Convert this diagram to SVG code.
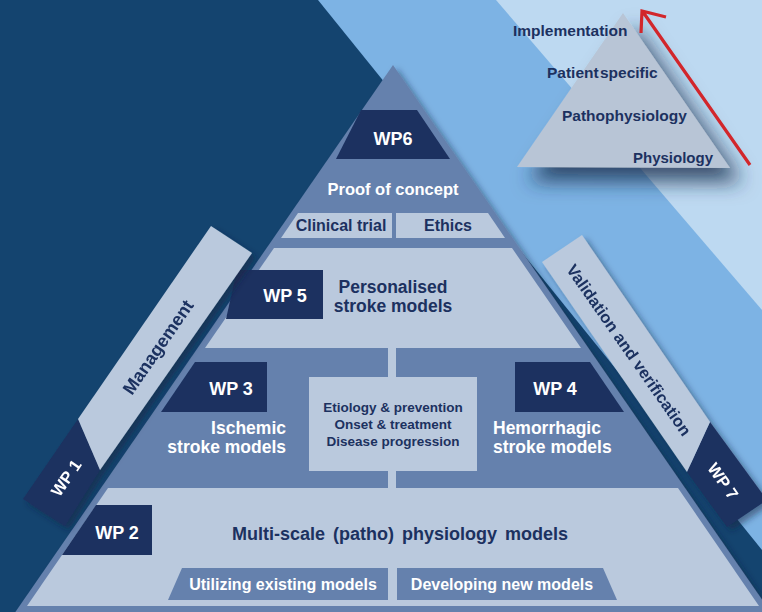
<svg xmlns="http://www.w3.org/2000/svg" width="762" height="612" viewBox="0 0 762 612">
<defs>
<style>
text{font-family:"Liberation Sans",Arial,sans-serif;font-weight:bold}
.w{fill:#ffffff}
.d{fill:#1c3160}
.slate{fill:#6581ad}
.light{fill:#bac9dd}
.dark{fill:#1c3160}
.c{text-anchor:middle}
</style>
<filter id="sh" x="-20%" y="-20%" width="140%" height="140%">
<feDropShadow dx="4" dy="4" stdDeviation="3" flood-color="#0a1f3a" flood-opacity="0.5"/>
</filter>
<filter id="sh2" x="-30%" y="-30%" width="170%" height="170%">
<feDropShadow dx="12" dy="14" stdDeviation="10" flood-color="#1a2f4f" flood-opacity="0.8"/>
</filter>
</defs>
<g id="background">
<rect x="0" y="0" width="762" height="612" fill="#14446f"/>
<polygon points="318,0 762,0 762,550" fill="#7db3e4"/>
<polygon points="496,0 762,0 762,310" fill="#bdd9f1"/>
</g>
<g id="pyramid" filter="url(#sh)">
<polygon points="393,65 781,627 5,627" class="slate"/>
</g>
<g id="wp6">
<polygon points="361,110 417,110 450,159 336,159" class="dark"/>
<text x="393" y="145" class="w c" font-size="18">WP6</text>
<text x="393" y="195" class="w c" font-size="16.5">Proof of concept</text>
</g>
<g id="clinical-trial">
<polygon points="298,213 392,213 392,238 281,238" class="light"/>
<text x="341" y="231" class="d c" font-size="16">Clinical trial</text>
</g>
<g id="ethics">
<polygon points="396,213 488,213 505,238 396,238" class="light"/>
<text x="448" y="231" class="d c" font-size="16">Ethics</text>
</g>
<g id="wp5">
<polygon points="274,248 512,248 581,348 205,348" class="light"/>
<polygon points="237,270 323,270 323,319 226,319" class="dark"/>
<text x="285" y="302" class="w c" font-size="18">WP 5</text>
<text x="393" y="293" class="d c" font-size="17.5">Personalised</text>
<text x="393" y="312" class="d c" font-size="17.5">stroke models</text>
</g>
<g id="center">
<rect x="388" y="348" width="8" height="140" class="light"/>
<rect x="309" y="377" width="168" height="94" class="light"/>
<text x="393" y="412" class="d c" font-size="13.5">Etiology &amp; prevention</text>
<text x="393" y="429" class="d c" font-size="13.5">Onset &amp; treatment</text>
<text x="393" y="446" class="d c" font-size="13.5">Disease progression</text>
</g>
<g id="wp3">
<polygon points="195,362 267,362 267,412 161,412" class="dark"/>
<text x="231" y="395" class="w c" font-size="18">WP 3</text>
<text x="286" y="434" class="w" font-size="17.5" text-anchor="end">Ischemic</text>
<text x="286" y="453" class="w" font-size="17.5" text-anchor="end">stroke models</text>
</g>
<g id="wp4">
<polygon points="515,362 590,362 624,412 515,412" class="dark"/>
<text x="555" y="395" class="w c" font-size="18">WP 4</text>
<text x="493" y="434" class="w" font-size="17.5">Hemorrhagic</text>
<text x="493" y="453" class="w" font-size="17.5">stroke models</text>
</g>
<g id="wp2">
<polygon points="108,488 678,488 759,606 27,606" class="light"/>
<polygon points="96,505 152,505 152,555 62,555" class="dark"/>
<text x="117" y="539" class="w c" font-size="18">WP 2</text>
<text x="400" y="540" class="d c" font-size="18" word-spacing="3">Multi-scale (patho) physiology models</text>
</g>
<g id="utilizing">
<polygon points="182,568 388,568 388,600 168,600" class="slate"/>
<text x="283" y="590" class="w c" font-size="16">Utilizing existing models</text>
</g>
<g id="developing">
<polygon points="397,568 603,568 617,600 397,600" class="slate"/>
<text x="502" y="590" class="w c" font-size="16">Developing new models</text>
</g>
<g id="wp1" filter="url(#sh)">
<polygon points="23,499 78,419 100,470 65,526" class="dark"/>
<polygon points="78,419 211,226 252,253 100,470" class="light"/>
<text transform="translate(158,347) rotate(-55.5)" class="d c" font-size="18" dy="0.35em">Management</text>
<text transform="translate(66,478) rotate(-55.5)" class="w c" font-size="16.5" dy="0.35em">WP 1</text>
</g>
<g id="wp7" filter="url(#sh)">
<polygon points="687,472 710,422 767,500 727,527" class="dark"/>
<polygon points="542,262 582,235 710,422 687,472" class="light"/>
<text transform="translate(629,350) rotate(55.1)" class="d c" font-size="16.5" dy="0.35em">Validation and verification</text>
<text transform="translate(723,481) rotate(55.1)" class="w c" font-size="16.5" dy="0.35em">WP 7</text>
</g>
<g id="levels">
<polygon points="623,13 730,168 517,167" fill="#b8c5d6" filter="url(#sh2)"/>
<text x="513" y="36" class="d" font-size="15.5">Implementation</text>
<text x="547" y="78" class="d" font-size="15.5" word-spacing="-3">Patient specific</text>
<text x="562" y="121" class="d" font-size="15.5">Pathophysiology</text>
<text x="633" y="163" class="d" font-size="15">Physiology</text>
</g>
<g id="connectors">
<path d="M750,165 L643,12 M666,17 L642,11 L641,33" fill="none" stroke="#d2262b" stroke-width="3.2" stroke-linecap="butt" stroke-linejoin="miter"/>
</g>
</svg>
